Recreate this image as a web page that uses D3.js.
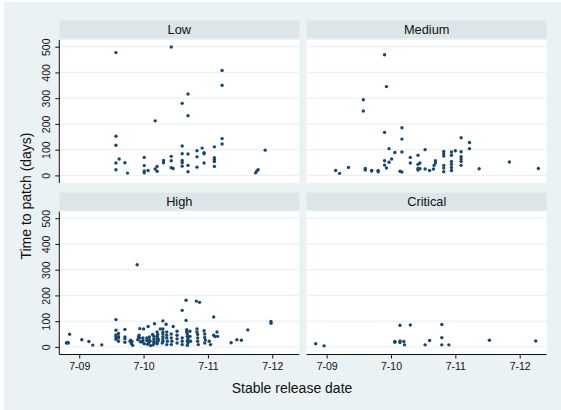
<!DOCTYPE html>
<html>
<head>
<meta charset="utf-8">
<script src="https://cdn.jsdelivr.net/npm/d3@7"></script>
<style>
  body { margin: 0; background: #fff; }
  svg { display: block; font-family: "Liberation Sans", Arial, sans-serif; }
</style>
</head>
<body>
<svg id="chart" width="561" height="410"></svg>
<script>
// panel names, in reading order
const panels = ["Low", "Medium", "High", "Critical"];

// x is the release date as decimal year, y is days to patch
const lowPoints = [
  [2010.07, 477], [2010.93, 499], [2011.72, 408], [2011.72, 350], [2011.19, 316],
  [2011.10, 280], [2011.19, 232], [2010.68, 212], [2010.07, 152], [2010.07, 117],
  [2011.72, 143], [2011.72, 122], [2012.39, 98], [2010.12, 64], [2010.07, 48],
  [2010.21, 49], [2010.07, 22], [2010.25, 9], [2010.51, 70], [2010.51, 38],
  [2010.51, 17], [2010.51, 10], [2010.57, 19], [2010.71, 35], [2010.68, 25],
  [2010.71, 16], [2010.81, 58], [2010.81, 49], [2010.93, 74], [2010.93, 57],
  [2010.93, 30], [2010.96, 27], [2011.10, 114], [2011.10, 84], [2011.10, 58],
  [2011.10, 49], [2011.10, 36], [2011.19, 83], [2011.19, 39], [2011.19, 14],
  [2011.33, 96], [2011.33, 72], [2011.33, 32], [2011.41, 106], [2011.44, 88],
  [2011.44, 84], [2011.44, 48], [2011.60, 111], [2011.60, 69], [2011.60, 62],
  [2011.60, 54], [2011.60, 35], [2012.24, 10], [2012.26, 17], [2012.28, 22]
];

const mediumPoints = [
  [2010.40, 469], [2010.43, 345], [2010.07, 294], [2010.07, 250], [2010.40, 167],
  [2010.67, 185], [2010.67, 141], [2010.67, 91], [2010.47, 104], [2010.56, 89],
  [2010.40, 57], [2010.40, 40], [2010.43, 29], [2010.47, 51], [2010.51, 64],
  [2010.67, 13], [2010.64, 16], [2010.80, 70], [2010.80, 48], [2010.92, 78],
  [2010.95, 48], [2010.92, 43], [2010.92, 27], [2010.92, 21], [2010.95, 26],
  [2011.03, 100], [2011.03, 25], [2011.10, 19], [2011.16, 25], [2011.17, 39],
  [2011.19, 48], [2011.19, 57], [2011.32, 93], [2011.32, 84], [2011.32, 75],
  [2011.32, 39], [2011.32, 29], [2011.32, 14], [2011.44, 91], [2011.44, 78],
  [2011.44, 54], [2011.44, 43], [2011.44, 31], [2011.44, 19], [2011.50, 96],
  [2011.59, 146], [2011.59, 92], [2011.59, 73], [2011.59, 64], [2011.59, 54],
  [2011.59, 39], [2011.72, 128], [2011.72, 104], [2011.87, 26], [2012.34, 52],
  [2012.79, 27], [2009.64, 19], [2009.70, 8], [2009.84, 31], [2010.10, 27],
  [2010.10, 21], [2010.20, 19], [2010.20, 17], [2010.30, 19], [2010.30, 14]
];

const highPoints = [
  [2009.30, 15], [2009.33, 15], [2009.32, 17], [2009.35, 49], [2009.54, 28],
  [2009.65, 21], [2009.71, 7], [2009.85, 8], [2010.07, 106], [2010.07, 65],
  [2010.07, 46], [2010.07, 39], [2010.07, 30], [2010.11, 52], [2010.11, 40],
  [2010.11, 35], [2010.11, 22], [2010.21, 68], [2010.21, 39], [2010.21, 32],
  [2010.21, 18], [2010.30, 26], [2010.31, 13], [2010.33, 6], [2010.29, 22],
  [2010.32, 20], [2010.40, 319], [2010.41, 28], [2010.44, 71], [2010.44, 35],
  [2010.43, 45], [2010.45, 20], [2010.42, 38], [2010.49, 35], [2010.49, 25],
  [2010.48, 19], [2010.50, 70], [2010.51, 12], [2010.57, 79], [2010.55, 35],
  [2010.55, 25], [2010.56, 10], [2010.59, 39], [2010.59, 28], [2010.60, 22],
  [2010.58, 15], [2010.61, 5], [2010.67, 90], [2010.66, 41], [2010.66, 31],
  [2010.66, 22], [2010.66, 15], [2010.64, 48], [2010.65, 8], [2010.72, 48],
  [2010.72, 35], [2010.72, 22], [2010.71, 12], [2010.73, 28], [2010.76, 70],
  [2010.80, 101], [2010.80, 70], [2010.80, 58], [2010.80, 50], [2010.80, 40],
  [2010.80, 31], [2010.80, 22], [2010.79, 15], [2010.71, 58], [2010.71, 41],
  [2010.71, 31], [2010.71, 18], [2010.85, 88], [2010.86, 58], [2010.86, 45],
  [2010.86, 35], [2010.87, 22], [2010.86, 9], [2010.96, 79], [2010.93, 50],
  [2010.93, 35], [2010.94, 22], [2010.93, 9], [2011.02, 61], [2011.02, 45],
  [2011.02, 31], [2011.02, 15], [2011.10, 142], [2011.10, 35], [2011.10, 22],
  [2011.10, 9], [2011.16, 181], [2011.16, 103], [2011.17, 67], [2011.17, 58],
  [2011.18, 50], [2011.18, 41], [2011.19, 35], [2011.19, 28], [2011.18, 22],
  [2011.19, 15], [2011.18, 6], [2011.22, 61], [2011.22, 41], [2011.23, 22],
  [2011.32, 178], [2011.37, 173], [2011.33, 70], [2011.33, 58], [2011.34, 48],
  [2011.34, 35], [2011.34, 22], [2011.35, 9], [2011.44, 63], [2011.45, 50],
  [2011.45, 37], [2011.46, 27], [2011.45, 15], [2011.52, 22], [2011.54, 9],
  [2011.59, 116], [2011.59, 45], [2011.61, 40], [2011.64, 58], [2011.65, 41],
  [2011.86, 16], [2011.95, 28], [2012.02, 26], [2012.12, 66], [2012.48, 99],
  [2012.48, 92]
];

const criticalPoints = [
  [2009.33, 12], [2009.46, 4], [2010.56, 21], [2010.56, 18], [2010.64, 84],
  [2010.64, 23], [2010.64, 17], [2010.70, 21], [2010.71, 8], [2010.80, 85],
  [2011.03, 8], [2011.10, 25], [2011.29, 87], [2011.29, 36], [2011.29, 8],
  [2011.40, 8], [2012.03, 26], [2012.75, 23]
];

const yTicks = [0, 100, 200, 300, 400, 500];
const xTickYears = [2009.5, 2010.5, 2011.5, 2012.5];
const xTickLabels = ["7-09", "7-10", "7-11", "7-12"];

const pointSets = [lowPoints, mediumPoints, highPoints, criticalPoints];

// layout
const colX = [59.3, 306.7];
const headTop = [20.7, 192.7];
const plotTop = [40, 211.5];
const plotW = 240, plotH = 143, headH = 17.6;
const bg = "#eaf2f3", headFill = "#dce6e9", dotColor = "#1a476f";

const svg = d3.select("#chart");
svg.append("rect").attr("x", 4).attr("y", 2).attr("width", 557).attr("height", 408).attr("fill", bg);

const x = d3.scaleLinear().domain([2009.19, 2012.92]).range([0, plotW]);
const y = d3.scaleLinear().domain([0, 500]).range([135.4, 6.7]);

panels.forEach((name, i) => {
  const col = i % 2, row = Math.floor(i / 2);
  const px = colX[col];

  // header strip
  svg.append("rect").attr("x", px).attr("y", headTop[row])
    .attr("width", plotW).attr("height", headH).attr("fill", headFill);
  svg.append("text").attr("x", px + plotW / 2).attr("y", headTop[row] + 13.6)
    .attr("text-anchor", "middle").style("font-size", "12.8px").attr("fill", "#111")
    .text(name);

  const g = svg.append("g").attr("transform", `translate(${px},${plotTop[row]})`);
  g.append("rect").attr("width", plotW).attr("height", plotH).attr("fill", "#fff");

  // grid
  g.selectAll("line.grid").data(yTicks).join("line")
    .attr("class", "grid")
    .attr("x1", 0).attr("x2", plotW)
    .attr("y1", d => y(d)).attr("y2", d => y(d))
    .attr("stroke", bg).attr("stroke-width", 1.2);

  g.selectAll("circle").data(pointSets[i]).join("circle")
    .attr("cx", d => x(d[0])).attr("cy", d => y(d[1]))
    .attr("r", 1.7).attr("fill", dotColor);

  if (col === 0) {
    const ya = g.append("g")
      .call(d3.axisLeft(y).tickValues(yTicks).tickSize(4).tickSizeOuter(0));
    ya.select(".domain").attr("d", `M0,0V${plotH}`);
    ya.selectAll("text")
      .attr("x", null).attr("dy", null).attr("y", null)
      .attr("text-anchor", "middle")
      .attr("transform", "translate(-9.5,0) rotate(-90)")
      .style("font-size", "10.5px").attr("fill", "#111");
  }
  if (row === 1) {
    const xa = g.append("g").attr("transform", `translate(0,${plotH})`)
      .call(d3.axisBottom(x).tickValues(xTickYears)
        .tickFormat((d, k) => xTickLabels[k]).tickSize(4).tickSizeOuter(0));
    xa.select(".domain").attr("d", `M0,0H${plotW}`);
    xa.selectAll("text").attr("dy", null).attr("y", 15.5)
      .style("font-size", "10.5px").attr("fill", "#111");
  }
});

svg.selectAll(".domain, .tick line").attr("stroke", "#111");

// axis titles
svg.append("text").attr("x", 292).attr("y", 392.5).attr("text-anchor", "middle")
  .style("font-size", "14px").attr("fill", "#111").text("Stable release date");
svg.append("text").attr("transform", "translate(30.5,196) rotate(-90)")
  .attr("text-anchor", "middle").style("font-size", "14px").attr("fill", "#111")
  .text("Time to patch (days)");
</script>
</body>
</html>
